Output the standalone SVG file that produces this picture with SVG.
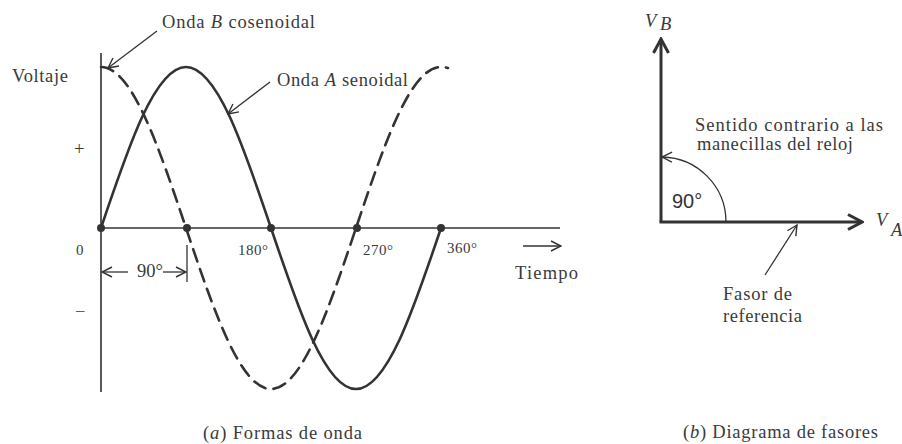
<svg xmlns="http://www.w3.org/2000/svg" width="902" height="444" viewBox="0 0 902 444">
<style>
.t{font-family:"Liberation Serif","Times New Roman",serif;fill:#3a3a3a;font-size:18.5px}
.s{font-size:15px}
.sans{font-family:"Liberation Sans",Arial,sans-serif;fill:#333}
.ax{stroke:#333;stroke-width:1.6;fill:none}
.wave{stroke:#333;stroke-width:2.6;fill:none;stroke-linecap:round}
.dash{stroke-dasharray:13 8}
.lead{stroke:#333;stroke-width:1.3;fill:none}
.ph{stroke:#333;stroke-width:3;fill:none}
.dot{fill:#333}
</style>
<defs>
<marker id="open" viewBox="0 0 12 12" refX="11" refY="6" markerWidth="12" markerHeight="12" markerUnits="userSpaceOnUse" orient="auto">
<path d="M1,1 L11,6 L1,11" fill="none" stroke="#333" stroke-width="1.4"/>
</marker>
<marker id="big" viewBox="0 0 18 18" refX="16" refY="9" markerWidth="18" markerHeight="18" markerUnits="userSpaceOnUse" orient="auto">
<path d="M2,1.5 L16,9 L2,16.5" fill="none" stroke="#333" stroke-width="3"/>
</marker>
</defs>
<rect width="902" height="444" fill="#fff"/>

<g id="axes-a">
<line class="ax" x1="101" y1="53" x2="101" y2="392"/>
<line class="ax" x1="101" y1="228" x2="560" y2="228"/>
</g>

<g id="wave-a">
<path class="wave" d="M101,228 C128.72,145.52 155.24,67 186,67 C216.76,67 243.28,145.52 271,228 C298.72,310.48 325.24,389 356,389 C386.76,389 413.28,310.48 441,228"/>
</g>
<g id="wave-b">
<path class="wave dash" d="M101,67 C131.76,67 158.28,145.52 186,228 C213.72,310.48 240.24,389 271,389 C301.76,389 328.28,310.48 356,228 C383.72,145.52 410.24,67 441,67 C444,67 446,67.4 448,68"/>
</g>

<g id="dots">
<circle class="dot" cx="101" cy="228" r="4"/>
<circle class="dot" cx="187" cy="228" r="4"/>
<circle class="dot" cx="271" cy="228" r="4"/>
<circle class="dot" cx="357" cy="228" r="4"/>
<circle class="dot" cx="441" cy="228" r="4"/>
</g>

<g id="labels-a">
<text class="t" x="12" y="82" textLength="56" lengthAdjust="spacing">Voltaje</text>
<text class="t" x="74" y="155">+</text>
<text class="t s" x="76" y="255">0</text>
<text class="t" x="75" y="318">−</text>
<text class="t s" x="238" y="255" textLength="30" lengthAdjust="spacing">180°</text>
<text class="t s" x="363" y="255" textLength="30" lengthAdjust="spacing">270°</text>
<text class="t s" x="447" y="253" textLength="30" lengthAdjust="spacing">360°</text>
<text class="t" x="515" y="279" textLength="63" lengthAdjust="spacing">Tiempo</text>
<text class="t" x="203" y="439" textLength="159" lengthAdjust="spacing">(<tspan font-style="italic">a</tspan>) Formas de onda</text>
</g>

<g id="label-b-wave">
<text class="t" x="162" y="28" textLength="153" lengthAdjust="spacing">Onda <tspan font-style="italic">B</tspan>  cosenoidal</text>
<line class="lead" x1="157" y1="31" x2="108" y2="68" marker-end="url(#open)"/>
</g>
<g id="label-a-wave">
<text class="t" x="277" y="86" textLength="131" lengthAdjust="spacing">Onda <tspan font-style="italic">A</tspan> senoidal</text>
<line class="lead" x1="270" y1="82" x2="228" y2="114" marker-end="url(#open)"/>
</g>

<g id="time-arrow">
<line class="lead" x1="523" y1="246" x2="561" y2="246" marker-end="url(#open)"/>
</g>

<g id="dim-90">
<line class="lead" x1="128" y1="272" x2="102" y2="272" marker-end="url(#open)"/>
<line class="lead" x1="163" y1="272" x2="186" y2="272" marker-end="url(#open)"/>
<line class="lead" x1="187" y1="245" x2="187" y2="282"/>
<text class="t" x="137" y="277" font-size="13">90°</text>
</g>

<g id="phasor-b">
<line class="ph" x1="661" y1="222" x2="661" y2="39" marker-end="url(#big)"/>
<text class="t" x="645" y="27" font-size="23" font-style="italic">V</text>
<text class="t" x="660" y="30" font-size="15" font-style="italic">B</text>
</g>
<g id="phasor-a">
<line class="ph" x1="659.5" y1="222" x2="862" y2="222" marker-end="url(#big)"/>
<text class="t" x="876" y="226" font-size="23" font-style="italic">V</text>
<text class="t" x="891" y="236" font-size="15" font-style="italic">A</text>
</g>

<g id="angle-arc">
<path class="lead" d="M726,222 A65,65 0 0 0 662,157" marker-end="url(#open)"/>
<text class="sans" x="672" y="208" font-size="20">90°</text>
</g>

<g id="label-rotation">
<text class="t" x="695" y="131" textLength="188" lengthAdjust="spacing">Sentido contrario a las</text>
<text class="t" x="697" y="150" textLength="156" lengthAdjust="spacing">manecillas del reloj</text>
</g>

<g id="label-reference">
<line class="lead" x1="765" y1="275" x2="797" y2="225" marker-end="url(#open)"/>
<text class="t" x="723" y="300" textLength="69" lengthAdjust="spacing">Fasor de</text>
<text class="t" x="723" y="322" textLength="79" lengthAdjust="spacing">referencia</text>
</g>

<g id="caption-b">
<text class="t" x="683" y="438" textLength="195" lengthAdjust="spacing">(<tspan font-style="italic">b</tspan>) Diagrama de fasores</text>
</g>
</svg>
